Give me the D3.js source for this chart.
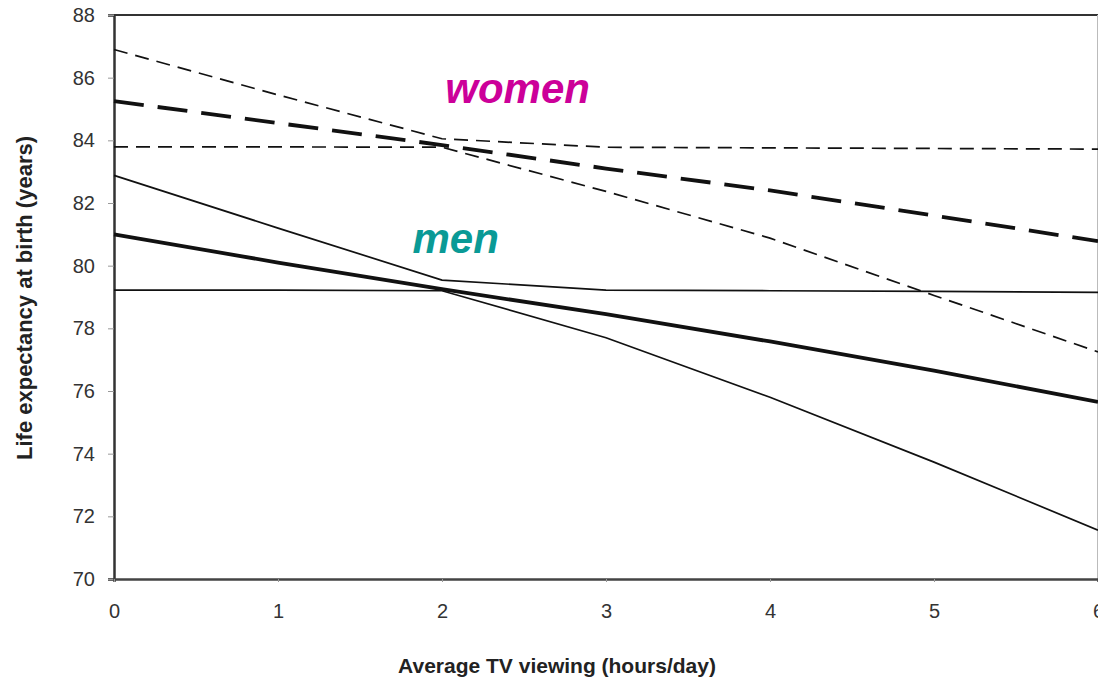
<!DOCTYPE html>
<html>
<head>
<meta charset="utf-8">
<script src="https://cdn.jsdelivr.net/npm/d3@7"></script>
<style>
  body { margin: 0; background: #fff; }
  svg { display: block; font-family: "Liberation Sans", Arial, sans-serif; }
</style>
</head>
<body>
<div id="chart"></div>
<script>
// Data
const hours = [0, 1, 2, 3, 4, 5, 6];
const womenSteepFlat = [86.9, 85.45, 84.05, 83.78, 83.76, 83.74, 83.72];
const womenAverage = [85.25, 84.55, 83.85, 83.1, 82.4, 81.6, 80.78];
const womenFlatSteep = [83.79, 83.79, 83.78, 82.37, 80.88, 79.05, 77.25];
const menSteepFlat = [82.88, 81.2, 79.54, 79.22, 79.2, 79.18, 79.15];
const menAverage = [81.0, 80.1, 79.25, 78.45, 77.58, 76.65, 75.65];
const menFlatSteep = [79.22, 79.22, 79.2, 77.7, 75.8, 73.73, 71.56];
const yTicks = [70, 72, 74, 76, 78, 80, 82, 84, 86, 88];

var W = 1098, H = 681;
var margin = { top: 15, right: 0, bottom: 102, left: 114 },
  width = W - margin.left - margin.right,
  height = H - margin.top - margin.bottom;

var svg = d3.select("#chart").append("svg")
  .attr("width", W).attr("height", H);
var g = svg.append("g")
  .attr("transform", "translate(" + margin.left + "," + margin.top + ")");

var x = d3.scaleLinear().domain([0, 6]).range([0, width]);
var y = d3.scaleLinear().domain([70, 88]).range([height, 0]);

// Rahmen
g.append("line").attr("x1", 0).attr("x2", width).attr("y1", 0).attr("y2", 0)
  .attr("stroke", "#333").attr("stroke-width", 2);
g.append("line").attr("x1", width - 0.5).attr("x2", width - 0.5).attr("y1", 0).attr("y2", height)
  .attr("stroke", "#bbb").attr("stroke-width", 1);

// Y axis
var yAxis = g.append("g")
  .call(d3.axisLeft(y).tickValues(yTicks).tickSize(6).tickPadding(13));
yAxis.select(".domain").attr("stroke", "#333").attr("stroke-width", 2.5);
yAxis.selectAll(".tick line").attr("stroke", "#999");
yAxis.selectAll("text").attr("font-size", 20).attr("fill", "#333")
  .attr("font-family", "Liberation Sans, Arial, sans-serif");

// X axis
var xAxis = g.append("g")
  .attr("transform", "translate(0," + height + ")")
  .call(d3.axisBottom(x).tickValues(hours).tickSize(3).tickPadding(22).tickFormat(d3.format("d")));
xAxis.select(".domain").attr("stroke", "#444").attr("stroke-width", 2.5);
xAxis.selectAll(".tick line").attr("stroke", "#999");
xAxis.selectAll("text").attr("font-size", 20).attr("fill", "#333")
  .attr("font-family", "Liberation Sans, Arial, sans-serif");

// Garis
var line = d3.line()
  .x(function (d, i) { return x(hours[i]); })
  .y(function (d) { return y(d); });

var series = [
  { values: womenSteepFlat, w: 1.7, dash: "14,8" },
  { values: womenFlatSteep, w: 1.7, dash: "14,8" },
  { values: womenAverage, w: 3.8, dash: "30,14" },
  { values: menSteepFlat, w: 1.7, dash: null },
  { values: menFlatSteep, w: 1.7, dash: null },
  { values: menAverage, w: 3.8, dash: null }
];

series.forEach(function (s) {
  g.append("path")
    .datum(s.values)
    .attr("fill", "none")
    .attr("stroke", "#111")
    .attr("stroke-width", s.w)
    .attr("stroke-dasharray", s.dash)
    .attr("d", line);
});

// Labels
g.append("text")
  .attr("x", x(2.02)).attr("y", y(85.2))
  .attr("font-size", 42).attr("font-weight", "bold").attr("font-style", "italic")
  .attr("fill", "#cc0099")
  .text("women");

g.append("text")
  .attr("x", x(1.82)).attr("y", y(80.4))
  .attr("font-size", 42).attr("font-weight", "bold").attr("font-style", "italic")
  .attr("fill", "#0a9a96")
  .text("men");

// Axis titles
svg.append("text")
  .attr("x", 557).attr("y", 673)
  .attr("text-anchor", "middle")
  .attr("font-size", 21).attr("font-weight", "bold").attr("fill", "#222")
  .text("Average TV viewing (hours/day)");

svg.append("text")
  .attr("transform", "translate(32,298) rotate(-90)")
  .attr("text-anchor", "middle")
  .attr("font-size", 22).attr("font-weight", "bold").attr("fill", "#222")
  .text("Life expectancy at birth (years)");
</script>
</body>
</html>
